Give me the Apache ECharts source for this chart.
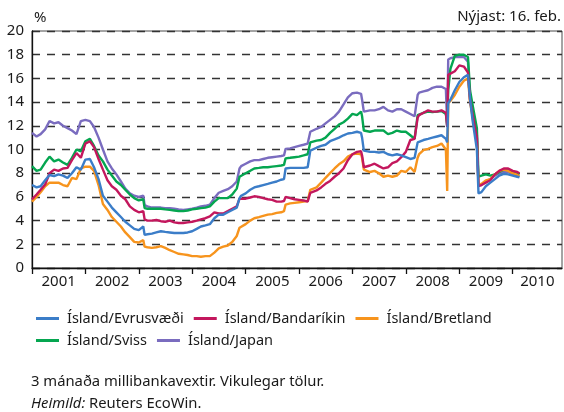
<!DOCTYPE html>
<html>
<head>
<meta charset="utf-8">
<script src="https://cdn.jsdelivr.net/npm/echarts@6/dist/echarts.min.js"></script>
<style>
  html, body { margin: 0; padding: 0; background: #fff; }
  #chart { width: 564px; height: 412px; }
</style>
</head>
<body>
<div id="chart"></div>
<script>
// Weekly 3-month interbank rate differentials, sampled at the dates below (%)
const dates = [
  '2001-01-01','2001-02-01','2001-03-01','2001-04-01','2001-05-01','2001-06-01','2001-07-01','2001-08-01','2001-09-01','2001-10-01','2001-11-01','2001-12-01',
  '2002-01-01','2002-02-01','2002-03-01','2002-04-01','2002-05-01','2002-06-01','2002-07-01','2002-08-01','2002-09-01','2002-10-01','2002-11-01','2002-12-01',
  '2003-01-01','2003-02-01','2003-02-10','2003-03-01','2003-04-01','2003-05-01','2003-06-01','2003-07-01','2003-08-01','2003-09-01','2003-10-01','2003-11-01','2003-12-01',
  '2004-01-01','2004-02-01','2004-03-01','2004-04-01','2004-05-01','2004-06-01','2004-07-01','2004-08-01','2004-09-01','2004-10-01','2004-11-01','2004-11-12','2004-11-20','2004-12-01',
  '2005-01-01','2005-02-01','2005-03-01','2005-04-01','2005-05-01','2005-06-01','2005-07-01','2005-08-01','2005-09-01','2005-09-20','2005-10-01','2005-11-01','2005-12-01',
  '2006-01-01','2006-02-01','2006-03-01','2006-03-12','2006-03-19','2006-04-01','2006-05-01','2006-06-01','2006-07-01','2006-08-01','2006-09-01','2006-10-01','2006-11-01','2006-12-01',
  '2007-01-01','2007-02-01','2007-03-01','2007-03-08','2007-03-20','2007-04-01','2007-05-01','2007-06-01','2007-07-01','2007-08-01','2007-09-01','2007-10-01','2007-11-01','2007-12-01',
  '2008-01-01','2008-02-01','2008-03-01','2008-03-08','2008-03-22','2008-04-01','2008-05-01','2008-06-01','2008-07-01','2008-08-01','2008-09-01','2008-10-01','2008-10-10','2008-10-17','2008-11-01','2008-12-01',
  '2009-01-01','2009-02-01','2009-03-01','2009-03-15','2009-04-01','2009-05-01','2009-05-12','2009-06-01','2009-07-01','2009-08-01','2009-09-01','2009-10-01','2009-11-01','2009-12-01',
  '2010-01-01','2010-02-01','2010-02-16'
];

const evrusvaedi = [
  7.0, 6.8, 6.9, 7.4, 7.85, 7.75, 7.9, 7.8, 7.6, 8.0, 8.5, 8.3,
  9.15, 9.2, 8.5, 7.5, 6.1, 5.6, 5.1, 4.7, 4.3, 3.9, 3.6, 3.3,
  3.2, 3.5, 2.8, 2.85, 2.9, 3.0, 3.1, 3.05, 3.0, 2.95, 2.95, 2.95, 3.0,
  3.1, 3.3, 3.5, 3.6, 3.7, 4.2, 4.5, 4.5, 4.7, 4.9, 5.1, 5.2, 5.9, 6.1,
  6.3, 6.6, 6.8, 6.9, 7.0, 7.1, 7.2, 7.3, 7.45, 7.5, 8.4, 8.45, 8.45,
  8.45, 8.45, 8.5, 8.6, 9.9, 10.05, 10.15, 10.3, 10.4, 10.7, 10.85, 11.0, 11.2, 11.35,
  11.4, 11.5, 11.4, 11.0, 9.9, 9.85, 9.8, 9.8, 9.75, 9.8, 9.6, 9.5, 9.6, 9.5,
  9.35, 9.2, 9.3, 9.3, 10.6, 10.75, 10.8, 10.9, 11.0, 11.1, 11.2, 10.9, 10.6, 13.9, 14.2, 15.0,
  15.7, 16.1, 16.3, 14.3, 12.5, 10.0, 6.3, 6.4, 6.9, 7.2, 7.5, 7.8, 7.95, 7.9,
  7.8, 7.7, 7.65
];

const bandarikin = [
  5.8, 6.2, 6.6, 7.05, 8.0, 8.3, 8.2, 8.4, 8.45, 9.1, 9.7, 9.3,
  10.5, 10.7, 10.2, 9.2, 8.3, 7.4, 6.9, 6.6, 6.1, 5.8, 5.2, 4.9,
  4.7, 4.8, 4.1, 4.0, 4.0, 4.05, 3.95, 3.9, 4.0, 3.85, 3.8, 3.8, 3.85,
  3.9, 4.0, 4.1, 4.2, 4.35, 4.7, 4.6, 4.6, 4.8, 5.0, 5.2, 5.3, 5.85, 6.0,
  5.85, 5.95, 6.05, 6.0, 5.9, 5.8, 5.75, 5.6, 5.6, 5.65, 6.0, 5.9, 5.8,
  5.75, 5.7, 5.6, 5.55, 6.35, 6.45, 6.55, 6.8, 7.1, 7.35, 7.7, 8.0, 8.4, 9.1,
  9.6, 9.8, 9.85, 9.5, 8.5, 8.55, 8.65, 8.8, 8.6, 8.4, 8.5, 8.85, 9.0, 9.35,
  9.8, 10.8, 10.9, 10.9, 12.7, 12.9, 13.1, 13.3, 13.2, 13.2, 13.3, 13.1, 11.9, 16.3, 16.4, 16.6,
  17.1, 17.0, 16.5, 14.2, 13.0, 11.0, 6.9, 7.0, 7.2, 7.4, 7.9, 8.2, 8.4, 8.4,
  8.2, 8.1, 8.0
];

const bretland = [
  5.6, 6.0, 6.4, 6.9, 7.2, 7.2, 7.2, 7.0, 6.9, 7.6, 7.5, 8.4,
  8.55, 8.55, 8.2, 7.0, 5.4, 4.9, 4.3, 3.9, 3.5, 3.0, 2.6, 2.2,
  2.15, 2.35, 1.8, 1.75, 1.7, 1.75, 1.85, 1.7, 1.5, 1.35, 1.2, 1.15, 1.1,
  1.0, 1.0, 0.95, 1.0, 1.0, 1.3, 1.65, 1.8, 1.9, 2.2, 2.7, 2.8, 3.4, 3.55,
  3.7, 4.0, 4.2, 4.3, 4.4, 4.5, 4.55, 4.65, 4.7, 4.8, 5.35, 5.45, 5.5,
  5.55, 5.6, 5.65, 5.7, 6.6, 6.7, 6.8, 7.2, 7.6, 8.0, 8.4, 8.75, 9.0, 9.4,
  9.6, 9.65, 9.6, 9.3, 8.3, 8.3, 8.1, 8.2, 8.0, 7.7, 7.8, 7.7, 7.8, 8.2,
  8.1, 8.5, 8.1, 8.1, 9.3, 9.6, 9.95, 10.05, 10.2, 10.3, 10.5, 10.0, 6.5, 13.9, 14.1, 14.6,
  15.3, 15.8, 16.0, 14.0, 12.8, 10.5, 7.0, 7.1, 7.4, 7.5, 7.9, 8.2, 8.3, 8.2,
  8.0, 7.85, 7.75
];

const sviss = [
  8.6, 8.2, 8.3, 8.9, 9.4, 9.0, 9.15, 8.9, 8.7, 9.3, 10.0, 9.85,
  10.7, 10.9, 10.3, 9.5, 9.0, 8.3, 7.8, 7.3, 7.0, 6.6, 6.2, 5.9,
  5.7, 5.8, 5.05, 5.0, 5.0, 5.0, 5.0, 4.95, 4.9, 4.85, 4.8, 4.8, 4.85,
  4.95, 5.0, 5.05, 5.1, 5.2, 5.6, 5.9, 5.9, 5.9, 6.2, 6.7, 6.8, 7.7, 7.85,
  8.0, 8.2, 8.4, 8.45, 8.5, 8.5, 8.55, 8.6, 8.65, 8.7, 9.25, 9.3, 9.35,
  9.4, 9.5, 9.6, 9.7, 10.6, 10.75, 10.75, 10.8, 11.0, 11.4, 11.75, 12.1, 12.3, 12.6,
  13.0, 12.9, 13.2, 12.8, 11.6, 11.6, 11.5, 11.6, 11.6, 11.6, 11.3, 11.4, 11.6, 11.5,
  11.5, 11.2, 10.9, 10.9, 12.9, 13.0, 13.1, 13.2, 13.15, 13.2, 13.25, 13.0, 12.0, 15.0, 16.8, 17.9,
  18.0, 18.0, 17.8, 15.0, 13.8, 11.8, 7.7, 7.8, 7.9, 7.8, 7.9, 8.1, 8.3, 8.3,
  8.1, 8.0, 7.9
];

const japan = [
  11.4, 11.1, 11.3, 11.7, 12.4, 12.2, 12.3, 12.0, 11.8, 11.6, 11.3, 12.4,
  12.5, 12.4, 11.9, 11.0, 10.0, 9.0, 8.4, 7.9, 7.3, 6.7, 6.3, 6.1,
  6.0, 6.1, 5.3, 5.2, 5.1, 5.1, 5.1, 5.05, 5.05, 5.0, 4.95, 4.9, 4.95,
  5.0, 5.1, 5.2, 5.25, 5.35, 5.9, 6.35, 6.5, 6.65, 6.9, 7.3, 7.4, 8.4, 8.6,
  8.8, 9.0, 9.1, 9.1, 9.2, 9.3, 9.35, 9.4, 9.45, 9.5, 10.05, 10.1, 10.2,
  10.3, 10.4, 10.5, 10.6, 11.5, 11.6, 11.75, 11.9, 12.2, 12.5, 12.8, 13.2, 13.8, 14.4,
  14.75, 14.8, 14.7, 14.2, 13.2, 13.2, 13.3, 13.3, 13.4, 13.6, 13.3, 13.2, 13.4, 13.4,
  13.2, 13.0, 12.8, 12.8, 14.6, 14.8, 14.9, 15.0, 15.2, 15.3, 15.3, 15.1, 12.0, 17.6, 17.7, 17.8,
  17.8, 17.8, 17.4, 14.5, 13.3, 11.2, 7.0, 7.0, 7.3, 7.5, 7.8, 8.0, 8.1, 8.1,
  7.9, 7.8, 7.7
];

const yearLabels = ['2001','2002','2003','2004','2005','2006','2007','2008','2009','2010'];
const yTicks = [0, 2, 4, 6, 8, 10, 12, 14, 16, 18, 20];

const axisStart = '2001-01-01';
const axisEnd = '2010-12-04';

const seriesDefs = [
  { name: 'Ísland/Japan',       values: japan,      color: '#7a6cbf' },
  { name: 'Ísland/Sviss',       values: sviss,      color: '#05a650' },
  { name: 'Ísland/Bretland',    values: bretland,   color: '#f7941d' },
  { name: 'Ísland/Bandaríkin',  values: bandarikin, color: '#c3175d' },
  { name: 'Ísland/Evrusvæði',   values: evrusvaedi, color: '#3b7dc8' }
];

const FONT = 'Noto Sans';
// date string -> epoch ms, so the x axis can be a plain linear value axis
const ts = s => { const p = s.split('-').map(Number); return Date.UTC(p[0], p[1] - 1, p[2]); };
const startTs = ts(axisStart);
const endTs = ts(axisEnd);
const yearStarts = yearLabels.map(y => ts(y + '-01-01'));
const labelCenters = yearStarts.map((t, i) => (t + (i + 1 < yearStarts.length ? yearStarts[i + 1] : endTs)) / 2);
const yearOf = v => {
  let idx = 0;
  yearStarts.forEach((t, i) => { if (v >= t) idx = i; });
  return yearLabels[idx];
};

const chart = echarts.init(document.getElementById('chart'), null, { renderer: 'canvas' });

const legendText = { fontFamily: FONT, fontSize: 14.5, color: '#1a1a1a', padding: [0, 0, 0, 3] };

chart.setOption({
  animation: false,
  backgroundColor: '#fff',
  textStyle: { fontFamily: FONT },
  grid: {
    left: 32, right: 2, top: 31, bottom: 144,
    show: true, borderColor: '#4a4a4a', borderWidth: 1, backgroundColor: 'transparent'
  },
  xAxis: {
    type: 'value',
    min: startTs,
    max: endTs,
    axisLine: { show: true, lineStyle: { color: '#111', width: 1.3 } },
    axisTick: { show: true, inside: false, length: 6, lineStyle: { color: '#111', width: 1.3 }, customValues: yearStarts },
    axisLabel: {
      show: true, customValues: labelCenters, margin: 6,
      fontFamily: FONT, fontSize: 15, color: '#1a1a1a',
      formatter: v => yearOf(v)
    },
    splitLine: { show: false }
  },
  yAxis: {
    type: 'value',
    min: 0, max: 20, interval: 2,
    axisLine: { show: true, lineStyle: { color: '#111', width: 1.3 } },
    axisTick: { show: false },
    axisLabel: {
      margin: 8, fontFamily: FONT, fontSize: 15, color: '#1a1a1a',
      formatter: v => yTicks.includes(v) ? String(v) : ''
    },
    splitLine: { show: true, lineStyle: { color: '#333', width: 1.4, type: [8, 7] } }
  },
  legend: [
    {
      data: ['Ísland/Evrusvæði', 'Ísland/Bandaríkin', 'Ísland/Bretland'],
      left: 31, top: 306, itemWidth: 23, itemHeight: 3, itemGap: 10, icon: 'rect',
      textStyle: legendText
    },
    {
      data: ['Ísland/Sviss', 'Ísland/Japan'],
      left: 31, top: 328, itemWidth: 23, itemHeight: 3, itemGap: 10, icon: 'rect',
      textStyle: legendText
    }
  ],
  graphic: [
    { type: 'text', left: 34, top: 10, style: { text: '%', font: '15px "Noto Sans"', fill: '#1a1a1a' } },
    { type: 'text', right: 3, top: 9, style: { text: 'Nýjast: 16. feb.', font: '15px "Noto Sans"', fill: '#1a1a1a' } },
    { type: 'text', left: 31, top: 374, style: { text: '3 mánaða millibankavextir. Vikulegar tölur.', font: '14.8px "Noto Sans"', fill: '#1a1a1a' } },
    {
      type: 'text', left: 31, top: 396,
      style: {
        text: '{i|Heimild:} Reuters EcoWin.',
        font: '14.8px "Noto Sans"', fill: '#1a1a1a',
        rich: { i: { fontStyle: 'italic', fontFamily: FONT, fontSize: 14.8, fill: '#1a1a1a' } }
      }
    }
  ],
  series: seriesDefs.map(s => ({
    name: s.name,
    type: 'line',
    showSymbol: false,
    symbol: 'none',
    color: s.color,
    lineStyle: { color: s.color, width: 2.4 },
    data: dates.map((d, i) => [ts(d), s.values[i]])
  }))
});
</script>
</body>
</html>
